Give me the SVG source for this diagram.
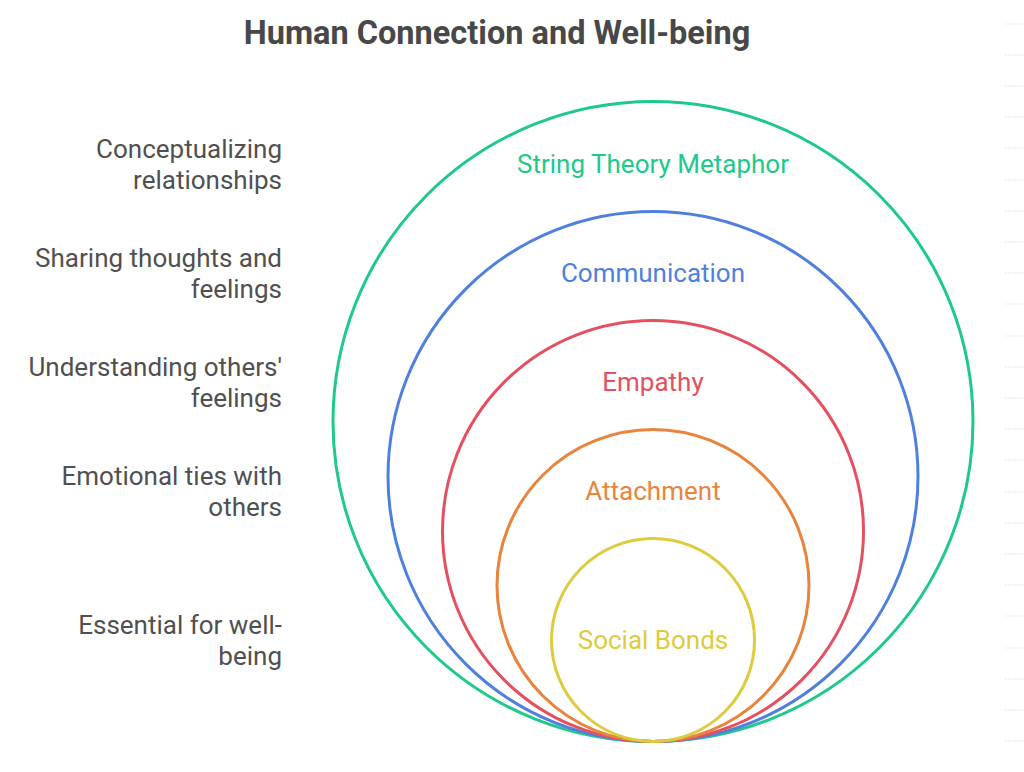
<svg xmlns="http://www.w3.org/2000/svg" width="1024" height="772" viewBox="0 0 1024 772">
<style>
.t{font-family:Roboto,"Liberation Sans",sans-serif;font-size:26px;fill:#505050}
.l{text-anchor:end}
.c{text-anchor:middle}
.ring{fill:none;stroke-width:3}
.title{font-family:Roboto,"Liberation Sans",sans-serif;font-size:32.5px;font-weight:bold;fill:#484848;text-anchor:middle}
.g{stroke:#f0f0f0;stroke-width:1.5;stroke-dasharray:2 1}
</style>
<rect width="1024" height="772" fill="#ffffff"/>
<g id="gridmarks">
<line class="g" x1="1005" y1="24" x2="1024" y2="24"/>
<line class="g" x1="1005" y1="55" x2="1024" y2="55"/>
<line class="g" x1="1005" y1="86" x2="1024" y2="86"/>
<line class="g" x1="1005" y1="117" x2="1024" y2="117"/>
<line class="g" x1="1005" y1="148" x2="1024" y2="148"/>
<line class="g" x1="1005" y1="180" x2="1024" y2="180"/>
<line class="g" x1="1005" y1="211" x2="1024" y2="211"/>
<line class="g" x1="1005" y1="242" x2="1024" y2="242"/>
<line class="g" x1="1005" y1="273" x2="1024" y2="273"/>
<line class="g" x1="1005" y1="304" x2="1024" y2="304"/>
<line class="g" x1="1005" y1="336" x2="1024" y2="336"/>
<line class="g" x1="1005" y1="367" x2="1024" y2="367"/>
<line class="g" x1="1005" y1="398" x2="1024" y2="398"/>
<line class="g" x1="1005" y1="429" x2="1024" y2="429"/>
<line class="g" x1="1005" y1="460" x2="1024" y2="460"/>
<line class="g" x1="1005" y1="492" x2="1024" y2="492"/>
<line class="g" x1="1005" y1="523" x2="1024" y2="523"/>
<line class="g" x1="1005" y1="554" x2="1024" y2="554"/>
<line class="g" x1="1005" y1="585" x2="1024" y2="585"/>
<line class="g" x1="1005" y1="616" x2="1024" y2="616"/>
<line class="g" x1="1005" y1="648" x2="1024" y2="648"/>
<line class="g" x1="1005" y1="679" x2="1024" y2="679"/>
<line class="g" x1="1005" y1="710" x2="1024" y2="710"/>
<line class="g" x1="1005" y1="741" x2="1024" y2="741"/>
</g>
<text class="title" x="497" y="44">Human Connection and Well-being</text>
<g id="string-theory">
<circle class="ring" cx="653" cy="421.5" r="320" stroke="#1ec98a"/>
<text class="t c" x="653" y="173" style="fill:#1ec98a">String Theory Metaphor</text>
</g>
<g id="communication">
<circle class="ring" cx="653" cy="476.5" r="265" stroke="#5080dd"/>
<text class="t c" x="653" y="282" style="fill:#5080dd">Communication</text>
</g>
<g id="empathy">
<circle class="ring" cx="653" cy="531" r="210.5" stroke="#e4505f"/>
<text class="t c" x="653" y="391" style="fill:#e4505f">Empathy</text>
</g>
<g id="attachment">
<circle class="ring" cx="653" cy="585.5" r="156" stroke="#e8843c"/>
<text class="t c" x="653" y="500" style="fill:#e8843c">Attachment</text>
</g>
<g id="social-bonds">
<circle class="ring" cx="653" cy="640" r="101.5" stroke="#ddcb40"/>
<text class="t c" x="653" y="649" style="fill:#ddcb40">Social Bonds</text>
</g>
<g id="descriptions">
<text class="t l" x="282" y="158">Conceptualizing</text>
<text class="t l" x="282" y="189">relationships</text>
<text class="t l" x="282" y="267">Sharing thoughts and</text>
<text class="t l" x="282" y="298">feelings</text>
<text class="t l" x="282" y="376">Understanding others'</text>
<text class="t l" x="282" y="407">feelings</text>
<text class="t l" x="282" y="485">Emotional ties with</text>
<text class="t l" x="282" y="516">others</text>
<text class="t l" x="282" y="634">Essential for well-</text>
<text class="t l" x="282" y="665">being</text>
</g>
<g id="connectors"></g>
</svg>
